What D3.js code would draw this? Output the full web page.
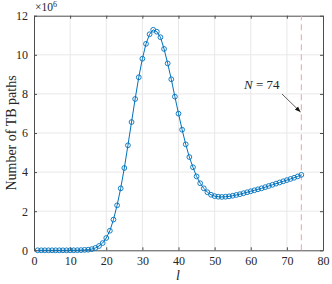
<!DOCTYPE html>
<html><head><meta charset="utf-8">
<script src="https://cdn.jsdelivr.net/npm/d3@7"></script>
<style>body{margin:0;background:#fff}svg text{font-family:"Liberation Serif","DejaVu Serif",serif;fill:#262626}</style>
</head><body><svg id="c" width="332" height="284"></svg>
<script>
const lValues = d3.range(1, 75);
const pathCounts = [0,0,0,0,0,0,0,0,0,0,0.002,0.005,0.01,0.02,0.03,0.06,0.12,0.22,0.37,0.63,
  1.0,1.57,2.30,3.17,4.21,5.37,6.56,7.74,8.85,9.80,10.56,11.05,11.28,11.18,10.9,10.3,9.56,8.75,7.86,6.99,
  6.17,5.42,4.77,4.25,3.78,3.43,3.17,2.97,2.84,2.77,2.74,2.73,2.74,2.76,2.79,2.83,2.87,2.92,2.97,3.02,
  3.07,3.12,3.17,3.23,3.29,3.35,3.41,3.47,3.53,3.59,3.65,3.71,3.78,3.86];
const xTicks = [0,10,20,30,40,50,60,70,80];
const yTicks = [0,2,4,6,8,10,12];
const nMark = 74;

const svg = d3.select("#c");
const x = d3.scaleLinear().domain([0,80]).range([34,323]);
const y = d3.scaleLinear().domain([0,12]).range([250.3,15.7]);
const axisCol = "#4d4d4d";

// grid
svg.append("g").selectAll("line").data(xTicks.slice(1,-1)).join("line")
  .attr("x1",d=>x(d)).attr("x2",d=>x(d)).attr("y1",y(0)).attr("y2",y(12))
  .attr("stroke","#e8e8e8").attr("stroke-width",1);
svg.append("g").selectAll("line").data(yTicks.slice(1,-1)).join("line")
  .attr("y1",d=>y(d)).attr("y2",d=>y(d)).attr("x1",x(0)).attr("x2",x(80))
  .attr("stroke","#e8e8e8").attr("stroke-width",1);

// axes
const gx = svg.append("g").attr("transform",`translate(0,${y(0)})`)
  .call(d3.axisBottom(x).tickValues(xTicks).tickSizeInner(-3).tickSizeOuter(0).tickPadding(6));
const gxt = svg.append("g").attr("transform",`translate(0,${y(12)})`)
  .call(d3.axisTop(x).tickValues(xTicks).tickSizeInner(-3).tickSizeOuter(0).tickFormat(""));
const gy = svg.append("g").attr("transform",`translate(${x(0)},0)`)
  .call(d3.axisLeft(y).tickValues(yTicks).tickSizeInner(-3).tickSizeOuter(0).tickPadding(6));
const gyr = svg.append("g").attr("transform",`translate(${x(80)},0)`)
  .call(d3.axisRight(y).tickValues(yTicks).tickSizeInner(-3).tickSizeOuter(0).tickFormat(""));
[gx,gxt,gy,gyr].forEach(g=>{
  g.selectAll("path").attr("stroke",axisCol);
  g.selectAll("line").attr("stroke",axisCol);
  g.selectAll("text").attr("font-size",12).attr("fill","#262626")
   .attr("font-family",'"Liberation Serif","DejaVu Serif",serif');
});

// red dashed line
svg.append("line").attr("x1",x(nMark)).attr("x2",x(nMark)).attr("y1",y(0)).attr("y2",y(12))
  .attr("stroke","#ff9a9a").attr("stroke-width",1).attr("stroke-dasharray","6,4");

// series
const data = lValues.map((l,i)=>({l, v:pathCounts[i]}));
svg.append("path").datum(data)
  .attr("d", d3.line().x(d=>x(d.l)).y(d=>y(d.v)))
  .attr("fill","none").attr("stroke","#0072BD").attr("stroke-width",1);
svg.append("g").selectAll("circle").data(data).join("circle")
  .attr("cx",d=>x(d.l)).attr("cy",d=>y(d.v)).attr("r",2.4)
  .attr("fill","none").attr("stroke","#0072BD").attr("stroke-width",0.9);

// annotation
const tN = svg.append("text").attr("x",244).attr("y",89).attr("font-size",13);
tN.append("tspan").attr("font-style","italic").text("N");
tN.append("tspan").text(" = 74");
svg.append("defs").append("marker").attr("id","ah").attr("viewBox","0 0 10 10")
  .attr("refX",10).attr("refY",5).attr("markerWidth",7).attr("markerHeight",7)
  .attr("orient","auto").append("path").attr("d","M0,1 L10,5 L0,9 Z").attr("fill","#111");
svg.append("line").attr("x1",282).attr("y1",94).attr("x2",300.5).attr("y2",112)
  .attr("stroke","#333").attr("stroke-width",0.8).attr("marker-end","url(#ah)");

// labels
svg.append("text").attr("transform",`translate(16,${(y(0)+y(12))/2}) rotate(-90)`)
  .attr("text-anchor","middle").attr("font-size",14).text("Number of TB paths");
svg.append("text").attr("x",178).attr("y",280).attr("text-anchor","middle")
  .attr("font-size",14).attr("font-style","italic").text("l");
const mult = svg.append("text").attr("x",35).attr("y",11).attr("font-size",11.5);
mult.append("tspan").text("×10");
mult.append("tspan").attr("font-size",8).attr("dy",-4).text("6");
</script></body></html>
